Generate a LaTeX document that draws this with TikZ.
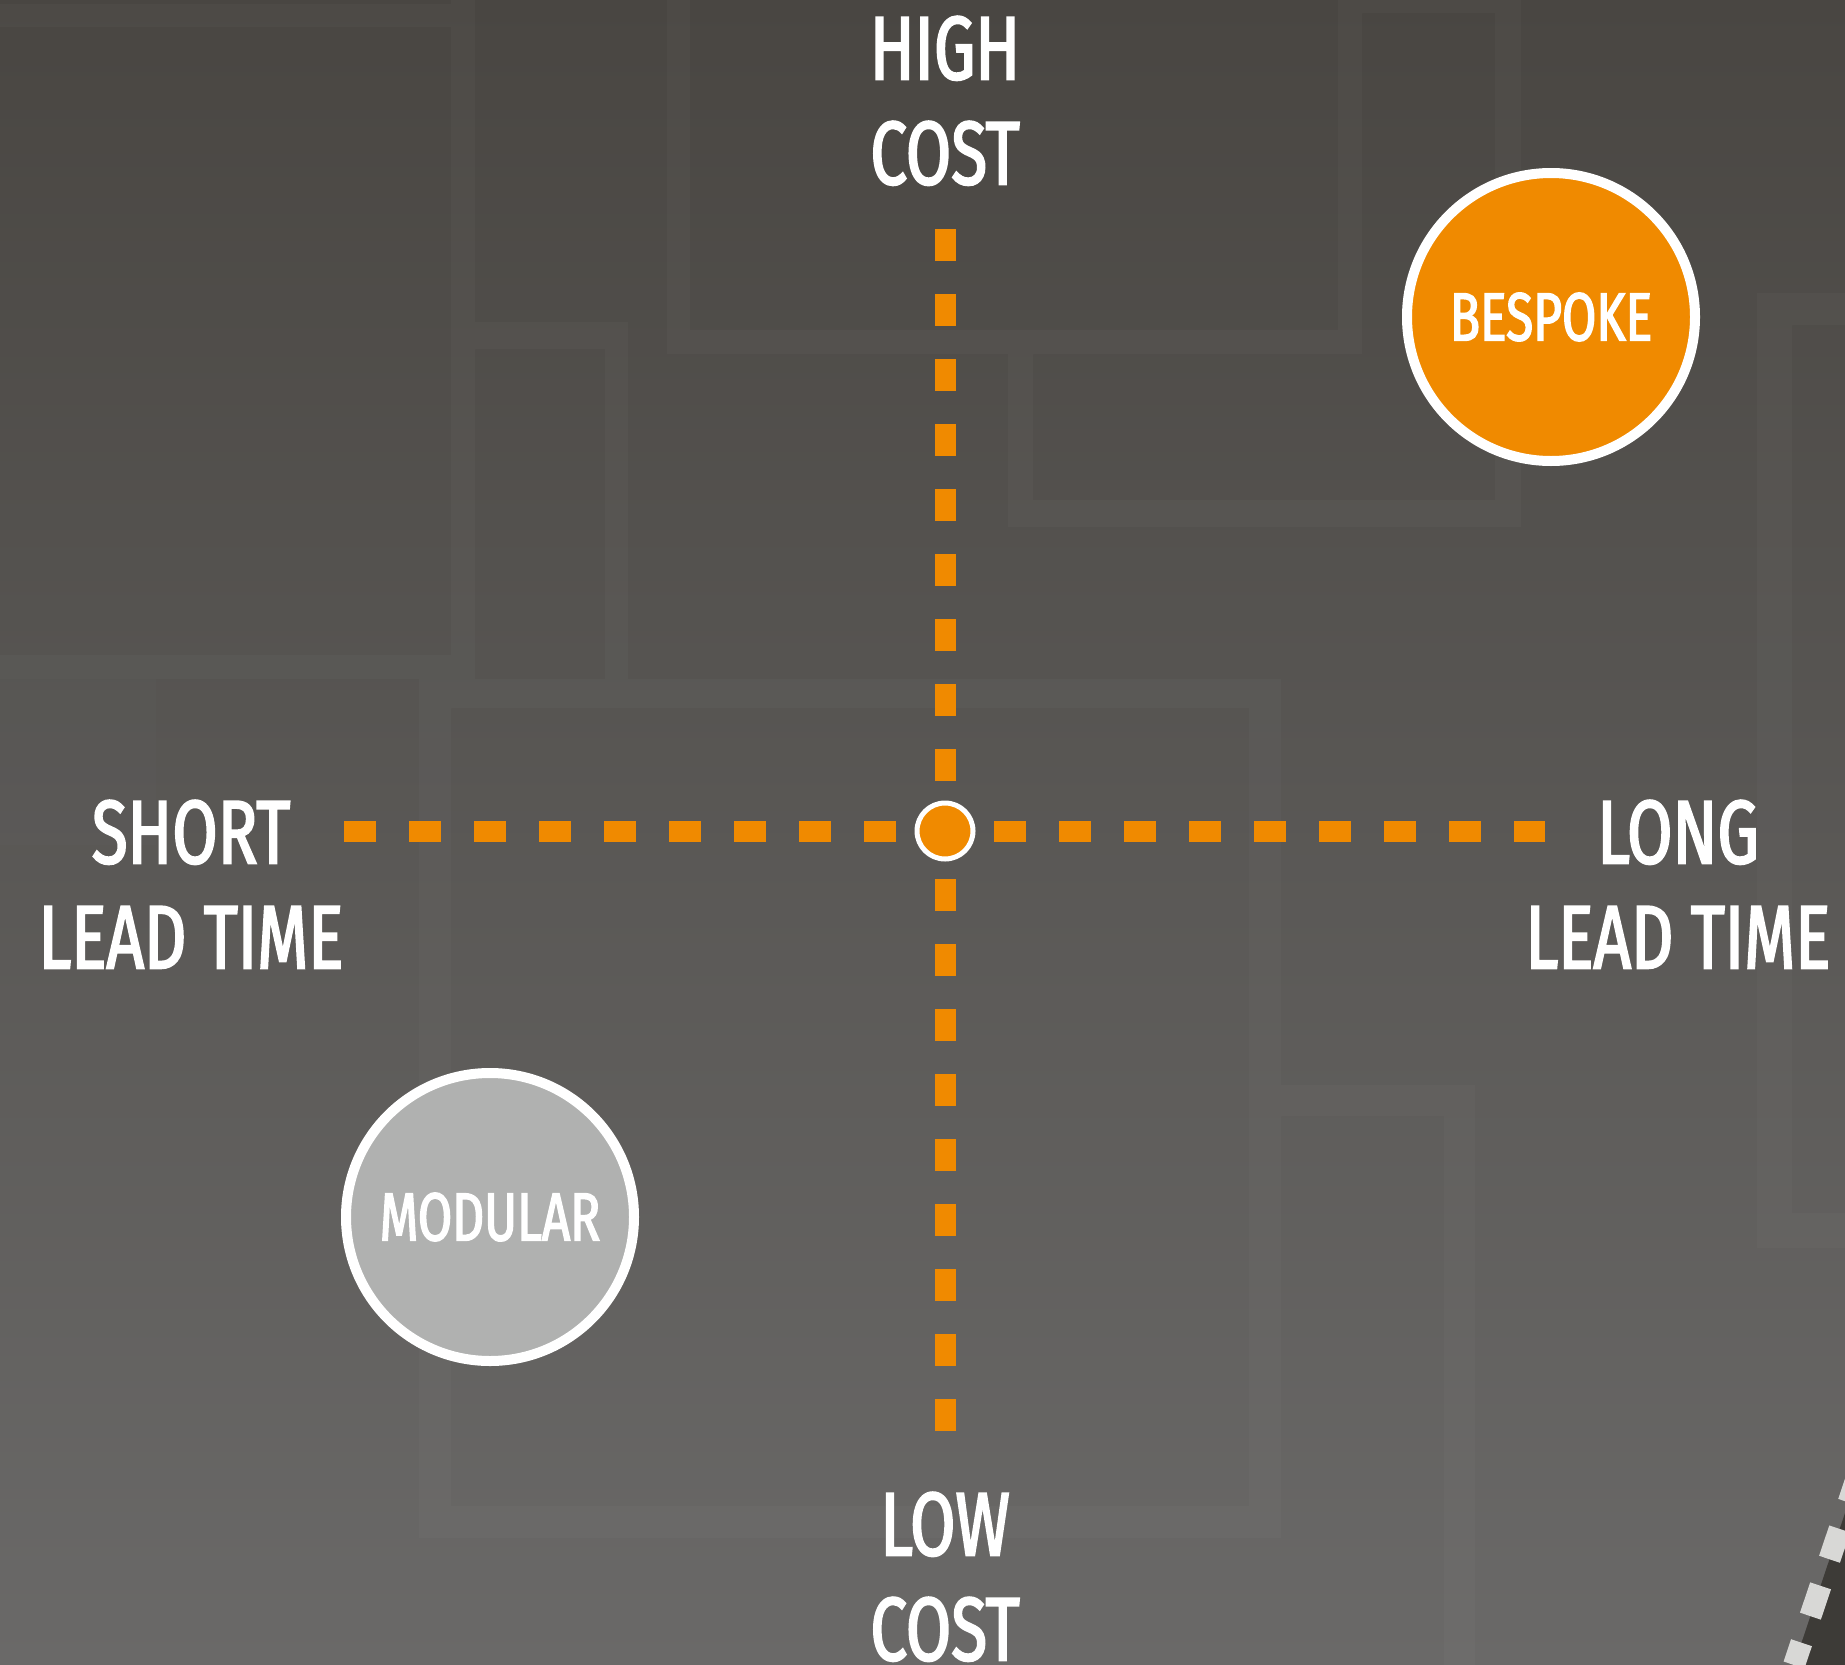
\documentclass[tikz,border=0pt]{standalone}
\usepackage{fontspec}
\setmainfont{Fira Sans}[FakeStretch=0.73, FakeBold=2.2]
\definecolor{orng}{RGB}{240,138,0}
\definecolor{bgtop}{RGB}{73,70,66}
\definecolor{bgbot}{RGB}{106,105,104}
\definecolor{darkc}{RGB}{61,59,55}
\definecolor{rimgrey}{RGB}{216,216,214}
\definecolor{modgrey}{RGB}{176,177,176}
\begin{document}
\begin{tikzpicture}[x=1pt,y=-1pt,
  lbl/.style={text=white, font=\fontsize{90}{105}\selectfont, align=center, inner sep=0pt, anchor=north},
  axisline/.style={draw=orng, line width=21pt, dash pattern=on 32pt off 33pt},
  bubble/.style={circle, draw=white, line width=10pt, minimum size=288pt, inner sep=0pt, text=white, font=\fontsize{68}{80}\selectfont},
  band/.style={fill=white, fill opacity=0.022},
  rim/.style={draw=rimgrey, line width=22pt, dash pattern=on 32pt off 28pt, dash phase=44pt}
]
\useasboundingbox (0,0) rectangle (1845,1665);
\shade[top color=bgtop, bottom color=bgbot] (0,0) rectangle (1845,1665);
% faint background panels
\fill[band]
  (0,4) rectangle (475,27)
  (451,0) rectangle (475,679)
  (0,655) rectangle (475,679)
  (475,322) rectangle (628,349)
  (605,322) rectangle (628,708)
  (667,0) rectangle (690,354)
  (690,330) rectangle (1362,354)
  (1338,0) rectangle (1362,330)
  (1362,0) rectangle (1521,13)
  (1495,13) rectangle (1521,527)
  (1008,500) rectangle (1495,527)
  (1008,354) rectangle (1033,500)
  (1757,293) rectangle (1845,325)
  (1757,325) rectangle (1792,1248)
  (1792,1213) rectangle (1845,1248)
  (419,679) rectangle (605,708)
  (628,679) rectangle (1281,708)
  (419,708) rectangle (451,1538)
  (451,1506) rectangle (1281,1538)
  (1249,708) rectangle (1281,1506)
  (1281,1085) rectangle (1475,1116)
  (1444,1116) rectangle (1475,1665);
\fill[white, fill opacity=0.012] (0,679) rectangle (156,845);
% dark corner with dashed rim
\coordinate (rimA) at (1883,1400);
\coordinate (rimB) at (1794,1665);
\fill[darkc] (1845,1513) -- (rimB) -- (1845,1665) -- cycle;
\draw[rim] (rimA) -- (rimB);
% axes
\coordinate (axL) at (344,831);
\coordinate (axR) at (1545,831);
\coordinate (axT) at (945,229);
\coordinate (axB) at (945,1431);
\draw[axisline] (axL) -- (axR);
\draw[axisline] (axT) -- (axB);
\node[circle, fill=orng, draw=white, line width=5pt, minimum size=56pt, inner sep=0pt] (origin) at (945,831) {};
% bubbles
\node[bubble, fill=orng] (bespoke) at (1551,317) {BESPOKE};
\node[bubble, fill=modgrey] (modular) at (490,1217) {MODULAR};
% axis labels
\node[lbl] (high) at (945,16) {HIGH\\COST};
\node[lbl] (short) at (191,800) {SHORT\\LEAD TIME};
\node[lbl] (long) at (1678,800) {LONG\\LEAD TIME};
\node[lbl] (low) at (945,1492) {LOW\\COST};
\end{tikzpicture}
\end{document}
